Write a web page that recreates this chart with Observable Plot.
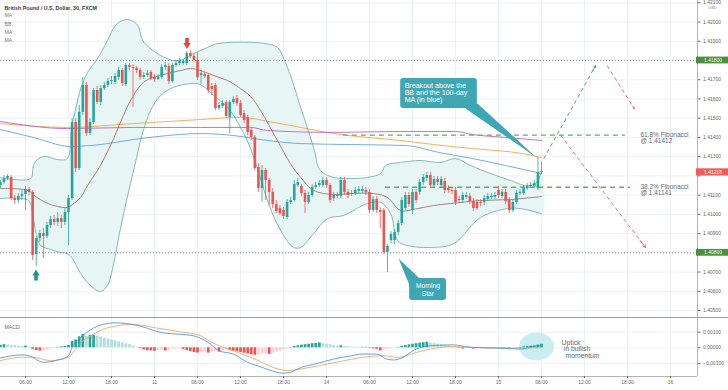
<!DOCTYPE html>
<html><head><meta charset="utf-8">
<script src="https://cdn.jsdelivr.net/npm/d3@7"></script>
<script src="https://cdn.jsdelivr.net/npm/@observablehq/plot@0.6"></script>
<style>
html,body{margin:0;padding:0;background:#fff;}
#chart{width:728px;height:390px;overflow:hidden;background:#fff;}
#chart svg{display:block;}
.divider{height:1px;background:#9c9c9c;}
</style></head><body><div id="chart"></div>
<script>
// ---------- DATA (GBP/USD, 30-minute candles, bar index = half-hours since 10th 00:00, weekend compressed) ----------
const firstBar = 5;
const open = [
1.41150,1.41166,1.41186,1.41192,1.41082,1.41072,1.41093,1.41103,1.41129,1.41114,
1.40791,1.40874,1.40900,1.40885,1.40942,1.40973,1.40958,1.40978,1.40958,1.41010,
1.41082,1.41478,1.41238,1.41530,1.41670,1.41420,1.41478,1.41644,1.41582,1.41654,
1.41670,1.41691,1.41686,1.41712,1.41748,1.41675,1.41774,1.41764,1.41758,1.41748,
1.41712,1.41722,1.41738,1.41712,1.41701,1.41712,1.41764,1.41769,1.41691,1.41774,
1.41784,1.41784,1.41784,1.41836,1.41821,1.41800,1.41722,1.41727,1.41722,1.41665,
1.41670,1.41550,1.41561,1.41582,1.41504,1.41582,1.41602,1.41576,1.41524,1.41504,
1.41436,1.41400,1.41244,1.41134,1.41228,1.41176,1.41114,1.41051,1.41030,1.41020,
1.40984,1.41062,1.41072,1.41150,1.41145,1.41108,1.41062,1.41098,1.41140,1.41150,
1.41150,1.41176,1.41150,1.41082,1.41093,1.41093,1.41176,1.41114,1.41108,1.41108,
1.41119,1.41119,1.41124,1.41114,1.41020,1.41077,1.41020,1.41020,1.40802,1.40864,
1.40864,1.40906,1.40952,1.41030,1.41098,1.41020,1.41114,1.41114,1.41166,1.41186,
1.41202,1.41150,1.41181,1.41150,1.41171,1.41134,1.41124,1.41124,1.41077,1.41072,
1.41088,1.41093,1.41067,1.41062,1.41062,1.41062,1.41077,1.41088,1.41088,1.41124,
1.41093,1.41114,1.41072,1.41020,1.41062,1.41108,1.41108,1.41134,1.41145,1.41145,
1.41134,1.41223];
const high = [
1.41176,1.41202,1.41207,1.41202,1.41098,1.41108,1.41124,1.41145,1.41140,1.41124,
1.40885,1.40916,1.40926,1.40958,1.40989,1.40994,1.41010,1.40994,1.41030,1.41098,
1.41498,1.41498,1.41566,1.41712,1.41686,1.41498,1.41654,1.41665,1.41670,1.41686,
1.41706,1.41717,1.41732,1.41764,1.41758,1.41784,1.41784,1.41779,1.41769,1.41758,
1.41738,1.41748,1.41748,1.41727,1.41727,1.41779,1.41790,1.41784,1.41784,1.41800,
1.41810,1.41805,1.41847,1.41852,1.41836,1.41842,1.41748,1.41738,1.41732,1.41680,
1.41680,1.41582,1.41592,1.41592,1.41592,1.41613,1.41618,1.41592,1.41540,1.41514,
1.41446,1.41410,1.41264,1.41254,1.41238,1.41186,1.41134,1.41072,1.41046,1.41036,
1.41077,1.41088,1.41176,1.41186,1.41155,1.41124,1.41114,1.41155,1.41166,1.41176,
1.41192,1.41192,1.41160,1.41114,1.41114,1.41192,1.41192,1.41129,1.41124,1.41140,
1.41145,1.41145,1.41140,1.41129,1.41093,1.41093,1.41036,1.41030,1.40843,1.40911,
1.40921,1.40968,1.41088,1.41114,1.41114,1.41129,1.41129,1.41181,1.41207,1.41218,
1.41218,1.41197,1.41197,1.41197,1.41186,1.41150,1.41140,1.41140,1.41093,1.41114,
1.41114,1.41108,1.41082,1.41077,1.41077,1.41098,1.41108,1.41108,1.41114,1.41145,
1.41129,1.41129,1.41088,1.41077,1.41124,1.41129,1.41150,1.41160,1.41166,1.41176,
1.41296,1.41270];
const low = [
1.41134,1.41155,1.41176,1.41072,1.41051,1.41056,1.41072,1.41020,1.41098,1.40760,
1.40729,1.40854,1.40770,1.40874,1.40926,1.40942,1.40937,1.40926,1.40942,1.40838,
1.41072,1.41218,1.41228,1.41514,1.41405,1.41410,1.41467,1.41571,1.41566,1.41644,
1.41660,1.41675,1.41675,1.41696,1.41665,1.41665,1.41748,1.41556,1.41732,1.41696,
1.41701,1.41712,1.41696,1.41686,1.41696,1.41701,1.41748,1.41675,1.41680,1.41764,
1.41774,1.41774,1.41774,1.41810,1.41790,1.41696,1.41675,1.41706,1.41628,1.41618,
1.41540,1.41540,1.41550,1.41498,1.41420,1.41571,1.41561,1.41504,1.41472,1.41410,
1.41384,1.41228,1.41114,1.41062,1.41072,1.41046,1.41030,1.41004,1.40994,1.40973,
1.40973,1.41051,1.41062,1.41140,1.41093,1.41004,1.41051,1.41088,1.41129,1.41140,
1.41140,1.41134,1.41056,1.41067,1.41082,1.41082,1.41098,1.41082,1.41093,1.41098,
1.41108,1.41108,1.41098,1.41004,1.41010,1.41004,1.40926,1.40791,1.40698,1.40848,
1.40843,1.40890,1.40942,1.41020,1.41036,1.40999,1.41056,1.41098,1.41150,1.41171,
1.41134,1.41134,1.41150,1.41134,1.41108,1.41108,1.41103,1.41046,1.41056,1.41056,
1.41077,1.41051,1.41015,1.41020,1.41041,1.41046,1.41067,1.41077,1.41077,1.41082,
1.41082,1.41051,1.41004,1.41010,1.41051,1.41098,1.41098,1.41124,1.41134,1.41134,
1.41124,1.41207];
const close = [
1.41166,1.41186,1.41197,1.41082,1.41072,1.41093,1.41103,1.41129,1.41114,1.40786,
1.40874,1.40900,1.40885,1.40942,1.40973,1.40958,1.40978,1.40958,1.41010,1.41082,
1.41478,1.41238,1.41530,1.41670,1.41420,1.41478,1.41644,1.41582,1.41654,1.41670,
1.41691,1.41696,1.41717,1.41748,1.41680,1.41774,1.41764,1.41758,1.41748,1.41712,
1.41722,1.41732,1.41706,1.41701,1.41712,1.41764,1.41774,1.41691,1.41774,1.41784,
1.41795,1.41795,1.41836,1.41821,1.41800,1.41712,1.41732,1.41717,1.41644,1.41649,
1.41550,1.41566,1.41576,1.41509,1.41582,1.41597,1.41576,1.41514,1.41488,1.41426,
1.41400,1.41238,1.41134,1.41228,1.41176,1.41114,1.41051,1.41015,1.41004,1.40989,
1.41062,1.41072,1.41155,1.41166,1.41108,1.41062,1.41098,1.41140,1.41150,1.41160,
1.41176,1.41150,1.41072,1.41098,1.41098,1.41176,1.41114,1.41098,1.41103,1.41124,
1.41129,1.41129,1.41114,1.41020,1.41077,1.41020,1.41010,1.40802,1.40833,1.40895,
1.40906,1.40952,1.41072,1.41098,1.41051,1.41114,1.41072,1.41166,1.41192,1.41202,
1.41150,1.41181,1.41166,1.41181,1.41124,1.41124,1.41119,1.41062,1.41072,1.41098,
1.41098,1.41067,1.41030,1.41030,1.41056,1.41082,1.41093,1.41093,1.41098,1.41098,
1.41114,1.41067,1.41020,1.41062,1.41108,1.41114,1.41134,1.41145,1.41150,1.41160,
1.41218,1.41218];

// Bollinger bands
const bbUpperBar = [5,13.4,14.2,15.6,17.6,20.9,23.7,24.8,25.9,27.4,29.3,32.1,34.9,37.1,39.9,42.1,43.5,44.7,46.9,49.7,53.3,55.8,58.9,62.8,65.6,75.6,80.4,82.3,85.1,88.8,92.4,94.3,98.0,102.7,107.4,111.1,112.5,116.7,122.2,127.8,132.0,136.2,141.8,147.4,151.5,154.3,156.0];
const bbUpperVal = [1.41192,1.41186,1.41254,1.41290,1.41301,1.41285,1.41290,1.41446,1.41540,1.41654,1.41738,1.41810,1.41904,1.41982,1.42013,1.42003,1.41977,1.41904,1.41862,1.41826,1.41800,1.41805,1.41836,1.41868,1.41888,1.41894,1.41883,1.41868,1.41764,1.41556,1.41348,1.41228,1.41192,1.41186,1.41192,1.41212,1.41254,1.41270,1.41280,1.41270,1.41290,1.41254,1.41212,1.41176,1.41150,1.41160,1.41218];
const bbLowerBar = [5,12.8,14.0,15.1,16.2,19.0,21.8,23.7,25.1,27.4,30.1,32.9,34.9,36.3,38.5,41.3,42.7,44.1,45.5,46.9,49.7,53.3,58.0,60.8,64.5,68.4,72.0,74.8,77.6,79.8,83.2,86.8,88.8,92.4,96.3,100.7,107.4,111.1,113.9,115.8,118.6,125.9,131.5,139.0,146.5,150.1,156.0];
const bbLowerVal = [1.41082,1.41072,1.40994,1.40890,1.40838,1.40817,1.40802,1.40796,1.40770,1.40692,1.40630,1.40599,1.40630,1.40718,1.40926,1.41160,1.41270,1.41384,1.41472,1.41540,1.41618,1.41660,1.41680,1.41675,1.41618,1.41556,1.41452,1.41342,1.41186,1.41056,1.40916,1.40828,1.40828,1.40900,1.40978,1.40994,1.41056,1.41062,1.41004,1.40864,1.40838,1.40828,1.40848,1.40984,1.41030,1.41030,1.41004];
const bbBasisBar = [5,12.8,14.8,17.6,20.9,23.7,25.1,27.4,29.3,32.9,36.6,39.3,42.1,44.9,47.7,51.6,55.3,58.0,60.8,64.5,68.4,72.0,74.8,77.6,82.3,85.9,88.8,92.4,98.0,102.7,109.1,113.0,116.7,121.4,125.9,130.6,139.0,147.4,156.0];
const bbBasisVal = [1.41134,1.41124,1.41093,1.41062,1.41041,1.41036,1.41051,1.41088,1.41150,1.41254,1.41394,1.41514,1.41618,1.41686,1.41712,1.41732,1.41748,1.41758,1.41748,1.41722,1.41696,1.41654,1.41613,1.41540,1.41384,1.41264,1.41192,1.41124,1.41103,1.41108,1.41108,1.41088,1.41020,1.41030,1.41046,1.41056,1.41072,1.41077,1.41093];

// Moving averages
const maOrangeBar = [5,23.7,42.1,60.8,72.0,81.2,88.8,98.0,107.4,116.7,125.9,136.8,150.7,156.0];
const maOrangeVal = [1.41472,1.41452,1.41472,1.41493,1.41504,1.41478,1.41452,1.41420,1.41400,1.41384,1.41363,1.41342,1.41316,1.41296];
const maPurpleBar = [5,23.7,42.1,60.8,74.8,79.5,98.0,116.7,132.0,136.8,146.0,156.0];
const maPurpleVal = [1.41483,1.41446,1.41452,1.41452,1.41452,1.41436,1.41426,1.41431,1.41431,1.41415,1.41400,1.41384];
const maBlueBar = [5,14.2,24.6,32.9,42.1,51.6,60.8,70.0,79.5,88.8,102.7,118.1,127.3,136.8,146.0,156.0];
const maBlueVal = [1.41441,1.41400,1.41353,1.41363,1.41389,1.41410,1.41420,1.41410,1.41384,1.41368,1.41363,1.41358,1.41322,1.41290,1.41254,1.41212];

// MACD pane
const macdHist = [
0.00016,0.00020,0.00018,0.00015,0.00013,0.00011,0.00009,0.00011,0.00005,-0.00010,
-0.00018,-0.00021,-0.00020,-0.00014,-0.00009,-0.00004,0.00003,0.00006,0.00009,0.00015,
0.00040,0.00050,0.00070,0.00085,0.00075,0.00080,0.00082,0.00075,0.00068,0.00062,
0.00056,0.00050,0.00044,0.00038,0.00032,0.00026,0.00020,0.00012,0.00005,-0.00006,
-0.00014,-0.00018,-0.00020,-0.00022,-0.00018,-0.00016,-0.00020,-0.00014,-0.00010,-0.00008,
-0.00006,-0.00010,-0.00018,-0.00024,-0.00030,-0.00034,-0.00030,-0.00026,-0.00034,-0.00030,
-0.00024,-0.00028,-0.00020,-0.00014,-0.00018,-0.00022,-0.00026,-0.00030,-0.00035,-0.00040,
-0.00045,-0.00048,-0.00044,-0.00040,-0.00036,-0.00042,-0.00034,-0.00028,-0.00022,-0.00015,
-0.00008,0.00003,0.00009,0.00013,0.00017,0.00020,0.00023,0.00026,0.00028,0.00031,
0.00027,0.00023,0.00019,0.00015,0.00011,0.00013,0.00009,0.00007,0.00005,0.00004,
0.00003,0.00003,0.00003,-0.00003,-0.00007,-0.00010,-0.00020,-0.00015,-0.00010,-0.00006,
-0.00002,0.00003,0.00009,0.00014,0.00019,0.00023,0.00026,0.00030,0.00033,0.00036,
0.00031,0.00027,0.00023,0.00019,0.00015,0.00011,0.00007,0.00004,-0.00004,-0.00008,
-0.00006,-0.00004,-0.00008,-0.00004,-0.00002,-0.00002,0.00002,0.00002,0.00002,-0.00002,
0.00002,-0.00002,-0.00004,-0.00002,0.00002,0.00002,0.00006,0.00008,0.00010,0.00012,
0.00018,0.00022];
const macdBar = [5,11,13,17,21,24,25,27,29,33,37,40,44,50,55,59,63,66,70,74,78,81,84,86,89,93,98,103,106,110,113,115,117,121,125,131,137,144,150,155,156];
const macdVal = [-0.00065,-0.00046,-0.00051,-0.00093,-0.00078,-0.00051,0.00002,0.00057,0.00097,0.00146,0.00160,0.00156,0.00139,0.00097,0.00087,0.00076,0.00034,-0.00019,-0.00040,-0.00093,-0.00125,-0.00150,-0.00163,-0.00156,-0.00125,-0.00103,-0.00072,-0.00051,-0.00040,-0.00040,-0.00074,-0.00078,-0.00065,-0.00008,0.00013,0.00019,0.00002,-0.00002,-0.00008,0.00013,0.00015];
const signalBar = [5,11,14,19,24,27,31,35,42,48,55,61,64,70,76,81,85,89,94,100,106,112,116,121,125,131,137,144,150,156];
const signalVal = [-0.00082,-0.00061,-0.00061,-0.00082,-0.00061,0.00023,0.00087,0.00129,0.00150,0.00129,0.00103,0.00076,0.00034,-0.00019,-0.00072,-0.00125,-0.00146,-0.00135,-0.00114,-0.00087,-0.00061,-0.00051,-0.00061,-0.00030,-0.00008,0.00008,0.00002,-0.00002,-0.00002,0.00002];

// Axes
const timeTickBars = [12,24,36,48,60,72,84,96,108,120,132,144,156,168,180,192];
const timeTickLabels = ["06:00","12:00","18:00","11","06:00","12:00","18:00","14","06:00","12:00","18:00","15","06:00","12:00","18:00","16"];
const priceTicks = [1.405,1.406,1.407,1.408,1.409,1.410,1.411,1.412,1.413,1.414,1.415,1.416,1.417,1.418,1.419,1.420,1.421];
const hiddenPriceLabel = 1.412; // covered by the last-price tag in the reference
const macdTicks = [-0.001,0,0.001];

// Legend labels (top-left)
const seriesTitle = "British Pound / U.S. Dollar, 30, FXCM";
const studyLabels = ["MA", "BB", "MA", "MA"];

// Annotations
const keyLevels = [1.418, 1.408];
const fibs = [{pct:"61.8%", level:1.41412, from:100.7, to:179.4},{pct:"38.2%", level:1.41141, from:112.5, to:180.8}];
const fibLabelBar = 183.6;
const projUp = [{x1:156.6, y1:1.41289, x2:171.1, y2:1.41774}];
const projDown = [{x1:174.3, y1:1.41774, x2:181.9, y2:1.41549},{x1:161.3, y1:1.41412, x2:185.0, y2:1.40828}];
const topMarker = [{b:57.07, v:1.41888}];
const bottomMarker = [{b:14.93, v:1.40685}];
const breakoutBox = [{x1:116.7, x2:138.1, y1:1.41550, y2:1.41706}];
const breakoutTail = [{b:134.8, v:1.41550},{b:138.1, v:1.41576},{b:154.6, v:1.41296}];
const breakoutText = {b:117.8, v:1.41684, text:"Breakout above the\nBB and the 100-day\nMA (in blue)"};
const starBox = [{x1:119.2, x2:129.5, y1:1.40552, y2:1.40666}];
const starTail = [{b:119.2, v:1.40630},{b:122.0, v:1.40666},{b:116.1, v:1.40770}];
const starLines = [{b:124.3, v:1.40627, text:"Morning"},{b:124.3, v:1.40588, text:"Star"}];
const uptickSpot = [{b:154.6, v:0.00008}];
const uptickLines = [{b:161.6, v:0.00032, text:"Uptick"},{b:162.2, v:-0.00006, text:"in bullish"},{b:162.7, v:-0.00049, text:"momentum"}];

// ---------- BUILD ----------
const FONT = "'Liberation Sans', Arial, sans-serif";
const UP = "#26a69a", DOWN = "#ef5350";
const xDomain = [5.023, 199.53];
const bars = open.map((_, i) => firstBar + i);
const candles = bars.map((b, i) => ({b, o: open[i], h: high[i], l: low[i], c: close[i]}));
const pts = (bs, vs) => bs.map((b, i) => ({b, v: vs[i]}));
const bbUpper = pts(bbUpperBar, bbUpperVal), bbLower = pts(bbLowerBar, bbLowerVal), bbBasis = pts(bbBasisBar, bbBasisVal);
const bbPoly = bbUpper.concat(bbLower.slice().reverse());
const lastPrice = close[close.length - 1];
const xRight = () => xDomain[1];
const legendRows = studyLabels.map((t, i) => ({t, row: i}));
const legendDy = [15.2, 23.6, 31.8, 40];

const arrowSym = dir => ({draw(ctx, size) {
  const r = Math.sqrt(size / Math.PI), k = r / 3.7, s = dir;
  const p = [[-1.8,-5.5],[1.8,-5.5],[1.8,-0.5],[3.7,-0.5],[0,5.5],[-3.7,-0.5],[-1.8,-0.5]];
  p.forEach(([x, y], i) => i ? ctx.lineTo(x * k, s * y * k) : ctx.moveTo(x * k, s * y * k));
  ctx.closePath();
}});
const ellipseSym = {draw(ctx, size) {
  const rx = Math.sqrt(size / Math.PI), ry = rx * 0.8, K = 0.5523;
  ctx.moveTo(rx, 0);
  ctx.bezierCurveTo(rx, K * ry, K * rx, ry, 0, ry);
  ctx.bezierCurveTo(-K * rx, ry, -rx, K * ry, -rx, 0);
  ctx.bezierCurveTo(-rx, -K * ry, -K * rx, -ry, 0, -ry);
  ctx.bezierCurveTo(K * rx, -ry, rx, -K * ry, rx, 0);
  ctx.closePath();
}};
const headStart = (d, key1, key2) => d[key2] - (d[key2] - d[key1]) * 0.06;

const main = Plot.plot({
  width: 728, height: 317, marginLeft: 0, marginRight: 31, marginTop: 0, marginBottom: 0,
  x: {domain: xDomain, axis: null},
  y: {domain: [1.404636, 1.42112]},
  style: {fontFamily: FONT, fontSize: "5px", color: "#666", background: "#fff"},
  marks: [
    Plot.ruleY(priceTicks, {stroke: "#edf0f6"}),
    Plot.ruleX(timeTickBars, {stroke: "#edf0f6"}),
    Plot.line(bbPoly, {x: "b", y: "v", fill: "#e8f5f5", stroke: "none", curve: "catmull-rom"}),
    Plot.ruleY(keyLevels, {stroke: "#858585", strokeWidth: 0.9, strokeDasharray: "1,2"}),
    Plot.line(pts(maOrangeBar, maOrangeVal), {x: "b", y: "v", stroke: "#f6a54c", strokeWidth: 0.9, curve: "monotone-x"}),
    Plot.line(pts(maPurpleBar, maPurpleVal), {x: "b", y: "v", stroke: "#b866c6", strokeWidth: 0.9, curve: "monotone-x"}),
    Plot.line(pts(maBlueBar, maBlueVal), {x: "b", y: "v", stroke: "#62a6e0", strokeWidth: 0.9, curve: "monotone-x"}),
    Plot.line(bbUpper, {x: "b", y: "v", stroke: "#64a29d", strokeWidth: 0.75, curve: "catmull-rom"}),
    Plot.line(bbLower, {x: "b", y: "v", stroke: "#64a29d", strokeWidth: 0.75, curve: "catmull-rom"}),
    Plot.line(bbBasis, {x: "b", y: "v", stroke: "#94625a", strokeWidth: 0.8, curve: "catmull-rom"}),
    Plot.ruleY(fibs, {y: "level", x1: "from", x2: "to", stroke: "#5fae5f", strokeWidth: 1.3, strokeDasharray: "5,4"}),
    Plot.ruleX(candles, {filter: d => d.c >= d.o, x: "b", y1: "l", y2: "h", stroke: UP, strokeWidth: 0.8}),
    Plot.ruleX(candles, {filter: d => d.c < d.o, x: "b", y1: "l", y2: "h", stroke: DOWN, strokeWidth: 0.8}),
    Plot.ruleX(candles, {filter: d => d.c >= d.o, x: "b", y1: "o", y2: "c", stroke: UP, strokeWidth: 2.6}),
    Plot.ruleX(candles, {filter: d => d.c < d.o, x: "b", y1: "o", y2: "c", stroke: DOWN, strokeWidth: 2.6}),
    Plot.link(projUp, {x1: "x1", y1: "y1", x2: "x2", y2: "y2", stroke: "#5dab5d", strokeWidth: 1, strokeDasharray: "4,3"}),
    Plot.arrow(projUp, {x1: d => headStart(d, "x1", "x2"), y1: d => headStart(d, "y1", "y2"), x2: "x2", y2: "y2", stroke: "#5dab5d", strokeWidth: 1, headLength: 5}),
    Plot.link(projDown, {x1: "x1", y1: "y1", x2: "x2", y2: "y2", stroke: "#e57373", strokeWidth: 1, strokeDasharray: "4,3"}),
    Plot.arrow(projDown, {x1: d => headStart(d, "x1", "x2"), y1: d => headStart(d, "y1", "y2"), x2: "x2", y2: "y2", stroke: "#e57373", strokeWidth: 1, headLength: 5}),
    Plot.text(fibs, {x: () => fibLabelBar, y: "level", text: d => d.pct + " Fibonacci\n@ " + d.level.toFixed(5), textAnchor: "start", lineAnchor: "top", dy: -2.5, fontSize: 6.5, lineHeight: 0.95, fill: "#5b6b7a"}),
    Plot.line(breakoutTail, {x: "b", y: "v", fill: "#3fa7b3", stroke: "none"}),
    Plot.rect(breakoutBox, {x1: "x1", x2: "x2", y1: "y1", y2: "y2", fill: "#3fa7b3", rx: 3}),
    Plot.text([breakoutText], {x: "b", y: "v", text: "text", textAnchor: "start", lineAnchor: "top", fontSize: 7.1, lineHeight: 1.0, fill: "#fff"}),
    Plot.line(starTail, {x: "b", y: "v", fill: "#3fa7b3", stroke: "none"}),
    Plot.rect(starBox, {x1: "x1", x2: "x2", y1: "y1", y2: "y2", fill: "#3fa7b3", rx: 3}),
    Plot.text(starLines, {x: "b", y: "v", text: "text", textAnchor: "middle", lineAnchor: "middle", fontSize: 6.6, fill: "#fff"}),
    Plot.dot(topMarker, {x: "b", y: "v", r: 3.7, symbol: arrowSym(1), fill: "#e8453c", stroke: "none"}),
    Plot.dot(bottomMarker, {x: "b", y: "v", r: 3.7, symbol: arrowSym(-1), fill: "#1f9985", stroke: "none"}),
    Plot.text([seriesTitle], {frameAnchor: "top-left", text: d => d, dx: 4, dy: 7.3, textAnchor: "start", lineAnchor: "middle", fontSize: 5.3, fontWeight: "bold", fill: "#3a3a3a"}),
    ...legendRows.map(r => Plot.text([r], {frameAnchor: "top-left", text: d => d.t, dx: 4, dy: legendDy[r.row], textAnchor: "start", lineAnchor: "middle", fontSize: 5.2, fill: "#777"})),
    Plot.axisY({anchor: "right", ticks: priceTicks, tickFormat: d => d === hiddenPriceLabel ? "" : d.toFixed(5), tickSize: 2.5, tickPadding: 3, fontSize: 5, label: null}),
    Plot.ruleX([xDomain[1]], {stroke: "#b4b4b4"}),
    Plot.text(["USD"], {frameAnchor: "top-right", text: d => d, dx: 15, dy: 7.5, textAnchor: "middle", lineAnchor: "middle", fontSize: 4, fill: "#888"}),
    Plot.rect(keyLevels, {x1: xRight, x2: xRight, y1: d => d, y2: d => d, insetLeft: -1, insetRight: -31, insetTop: -3.4, insetBottom: -3.4, fill: "#4a8f3c"}),
    Plot.text(keyLevels, {x: xRight, y: d => d, dx: 15.5, text: d => d.toFixed(5), fontSize: 5, fill: "#fff"}),
    Plot.rect([lastPrice], {x1: xRight, x2: xRight, y1: d => d, y2: d => d, insetLeft: -1, insetRight: -31, insetTop: -3.6, insetBottom: -3.6, fill: "#ef5b5b"}),
    Plot.text([lastPrice], {x: xRight, y: d => d, dx: 15.5, text: d => d.toFixed(5), fontSize: 5, fill: "#fff"})
  ]
});

const prev = macdHist.map((v, i) => i ? macdHist[i - 1] : v);
const hist = bars.map((b, i) => {
  const v = macdHist[i], p = prev[i];
  return {b, v, kind: v >= 0 ? (v >= p ? 0 : 1) : (v <= p ? 2 : 3)};
});
const histColors = ["#26a69a", "#b2dfdb", "#ef5350", "#ffcdd2"];

const macd = Plot.plot({
  width: 728, height: 72, marginLeft: 0, marginRight: 31, marginTop: 0, marginBottom: 14,
  x: {domain: xDomain},
  y: {domain: [-0.00184, 0.001878]},
  style: {fontFamily: FONT, fontSize: "5px", color: "#666", background: "#fff"},
  marks: [
    Plot.ruleY(macdTicks, {stroke: "#edf0f6"}),
    Plot.ruleX(timeTickBars, {stroke: "#edf0f6"}),
    Plot.dot(uptickSpot, {x: "b", y: "v", r: 17.5, symbol: ellipseSym, fill: "#c4ebee", fillOpacity: 0.9, stroke: "none"}),
    ...histColors.map((c, k) => Plot.ruleX(hist.filter(d => d.kind === k), {x: "b", y1: () => 0, y2: "v", stroke: c, strokeWidth: 2.7})),
    Plot.line(pts(signalBar, signalVal), {x: "b", y: "v", stroke: "#f5a05a", strokeWidth: 0.85, curve: "monotone-x"}),
    Plot.line(pts(macdBar, macdVal), {x: "b", y: "v", stroke: "#3d95e6", strokeWidth: 0.85, curve: "monotone-x"}),
    Plot.text(uptickLines, {x: "b", y: "v", text: "text", textAnchor: "start", fontSize: 6.8, fill: "#5b6977"}),
    Plot.text(["MACD"], {frameAnchor: "top-left", text: d => d, dx: 4, dy: 9, textAnchor: "start", lineAnchor: "middle", fontSize: 5.2, fill: "#666"}),
    Plot.ruleY([-0.00184], {stroke: "#b4b4b4"}),
    Plot.ruleX([xDomain[1]], {stroke: "#b4b4b4"}),
    Plot.axisX({ticks: timeTickBars, tickFormat: d => timeTickLabels[timeTickBars.indexOf(d)], tickSize: 2, tickPadding: 1.5, fontSize: 5, label: null}),
    Plot.axisY({anchor: "right", ticks: macdTicks, tickFormat: d => (d < 0 ? "\u2212" : "") + Math.abs(d).toFixed(5), tickSize: 2.5, tickPadding: 3, fontSize: 5, label: null})
  ]
});

const root = document.getElementById("chart");
root.appendChild(main);
const div = document.createElement("div"); div.className = "divider"; root.appendChild(div);
root.appendChild(macd);
</script></body></html>
